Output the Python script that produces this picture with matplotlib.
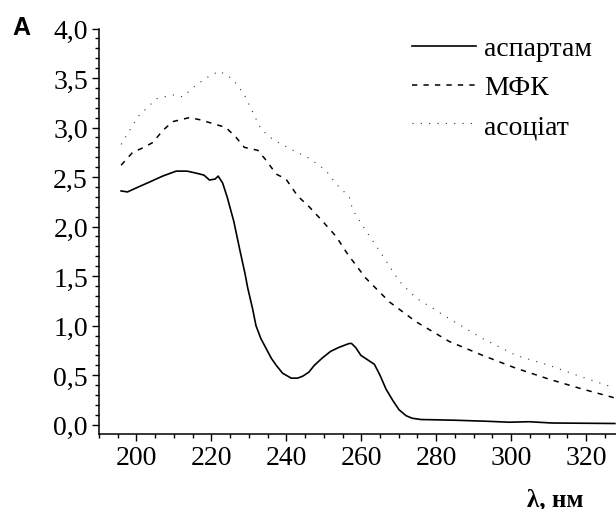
import matplotlib
matplotlib.use("Agg")
import matplotlib.pyplot as plt
from matplotlib.ticker import MultipleLocator, FuncFormatter

# аспартам (solid)
asp_x = [195.9, 197.6, 200.5, 203.5, 207.0, 210.6, 213.5, 215.9, 218.0, 219.5, 221.0, 221.8,
         223.0, 224.2, 226.0, 227.5, 229.0, 229.7, 231.0, 231.9, 233.2, 234.6, 236.0, 237.3,
         239.0, 241.3, 243.0, 244.4, 246.0, 247.5, 249.5, 251.8, 254.0, 256.8, 257.4, 258.5,
         259.9, 261.5, 263.5, 265.0, 266.6, 268.5, 270.1, 272.0, 273.6, 276.0, 278.9, 285.0,
         293.3, 299.5, 304.8, 310.9, 318.0, 327.7]
asp_y = [2.36, 2.35, 2.40, 2.45, 2.51, 2.56, 2.56, 2.54, 2.52, 2.47, 2.48, 2.51,
         2.44, 2.30, 2.05, 1.78, 1.52, 1.38, 1.17, 1.00, 0.87, 0.77, 0.67, 0.60,
         0.52, 0.47, 0.47, 0.49, 0.53, 0.60, 0.67, 0.74, 0.78, 0.82, 0.82, 0.78,
         0.70, 0.66, 0.61, 0.50, 0.36, 0.24, 0.15, 0.09, 0.065, 0.052, 0.05, 0.045,
         0.035, 0.025, 0.03, 0.017, 0.015, 0.012]

# МФК (dashed)
mfk_x = [195.9, 199.0, 202.0, 204.4, 207.0, 209.7, 214.1, 216.8, 220.4, 223.9, 226.6, 228.8,
         232.4, 234.6, 237.3, 239.9, 243.0, 246.1, 249.3, 253.3, 256.4, 261.2, 267.5, 274.6,
         283.5, 292.4, 301.3, 310.1, 319.0, 327.7]
mfk_y = [2.62, 2.75, 2.80, 2.85, 2.97, 3.06, 3.10, 3.08, 3.04, 3.00, 2.90, 2.80,
         2.77, 2.67, 2.53, 2.48, 2.31, 2.20, 2.07, 1.90, 1.72, 1.48, 1.24, 1.04,
         0.84, 0.70, 0.57, 0.46, 0.36, 0.27]

# асоціат (dotted)
aso_x = [195.9, 200.4, 205.3, 209.7, 212.4, 215.9, 219.5, 222.1, 225.7, 228.8, 231.1, 233.3,
         236.4, 241.8, 246.1, 250.5, 253.3, 256.8, 257.7, 261.2, 264.8, 270.1, 274.6, 283.5,
         292.4, 301.3, 310.1, 319.0, 327.7]
aso_y = [2.83, 3.11, 3.29, 3.33, 3.31, 3.43, 3.52, 3.57, 3.49, 3.33, 3.15, 2.98,
         2.88, 2.77, 2.69, 2.57, 2.43, 2.30, 2.17, 1.96, 1.76, 1.45, 1.28, 1.07,
         0.87, 0.70, 0.60, 0.48, 0.37]

labels = ["аспартам", "МФК", "асоціат"]
xticks = [200, 220, 240, 260, 280, 300, 320]
yticks = [0.0, 0.5, 1.0, 1.5, 2.0, 2.5, 3.0, 3.5, 4.0]

plt.rcParams["font.family"] = ["Liberation Serif", "DejaVu Serif"]

fig = plt.figure(figsize=(6.16, 5.10), dpi=100)
ax = fig.add_axes([99 / 616, 1 - 435 / 510, 1 - 99 / 616, (435 - 29.5) / 510])

ax.plot(asp_x, asp_y, color="black", lw=1.2, label=labels[0])
ax.plot(mfk_x, mfk_y, color="black", lw=1.1, linestyle=(0, (3.5, 4.0)), label=labels[1])
ax.plot(aso_x, aso_y, color="#333333", lw=0.8, linestyle=(0, (1.0, 6.5)), label=labels[2])

ax.set_xlim(190, 328)
ax.set_ylim(-0.094, 4.0)
ax.set_xticks(xticks)
ax.set_yticks(yticks)
ax.xaxis.set_minor_locator(MultipleLocator(5))
ax.yaxis.set_minor_locator(MultipleLocator(0.1))
ax.yaxis.set_major_formatter(FuncFormatter(lambda v, p: f"{v:.1f}".replace(".", ",")))

for s in ["top", "right"]:
    ax.spines[s].set_visible(False)
for s in ["left", "bottom"]:
    ax.spines[s].set_linewidth(1.1)
ax.spines["left"].set_bounds(-0.094, 4.0)

ax.tick_params(which="major", direction="out", length=5, width=1.0, labelsize=20, pad=3)
ax.tick_params(which="minor", direction="out", length=3, width=1.0)

leg = ax.legend(loc="upper left", bbox_to_anchor=(412 / 616, 1 - 37 / 510),
                bbox_transform=fig.transFigure, frameon=False, fontsize=20,
                handlelength=2.3, handletextpad=0.3, labelspacing=0.48,
                borderaxespad=0.0, borderpad=0.0)

fig.text(12 / 616, 1 - 35 / 510, "A", fontsize=18, fontweight="bold",
         family=["Liberation Sans", "DejaVu Sans"], ha="left", va="baseline")
fig.text(555 / 616, 1 - 506 / 510, "λ, нм", fontsize=18, fontweight="bold",
         ha="center", va="baseline")

fig.savefig("out.png", dpi=100)
